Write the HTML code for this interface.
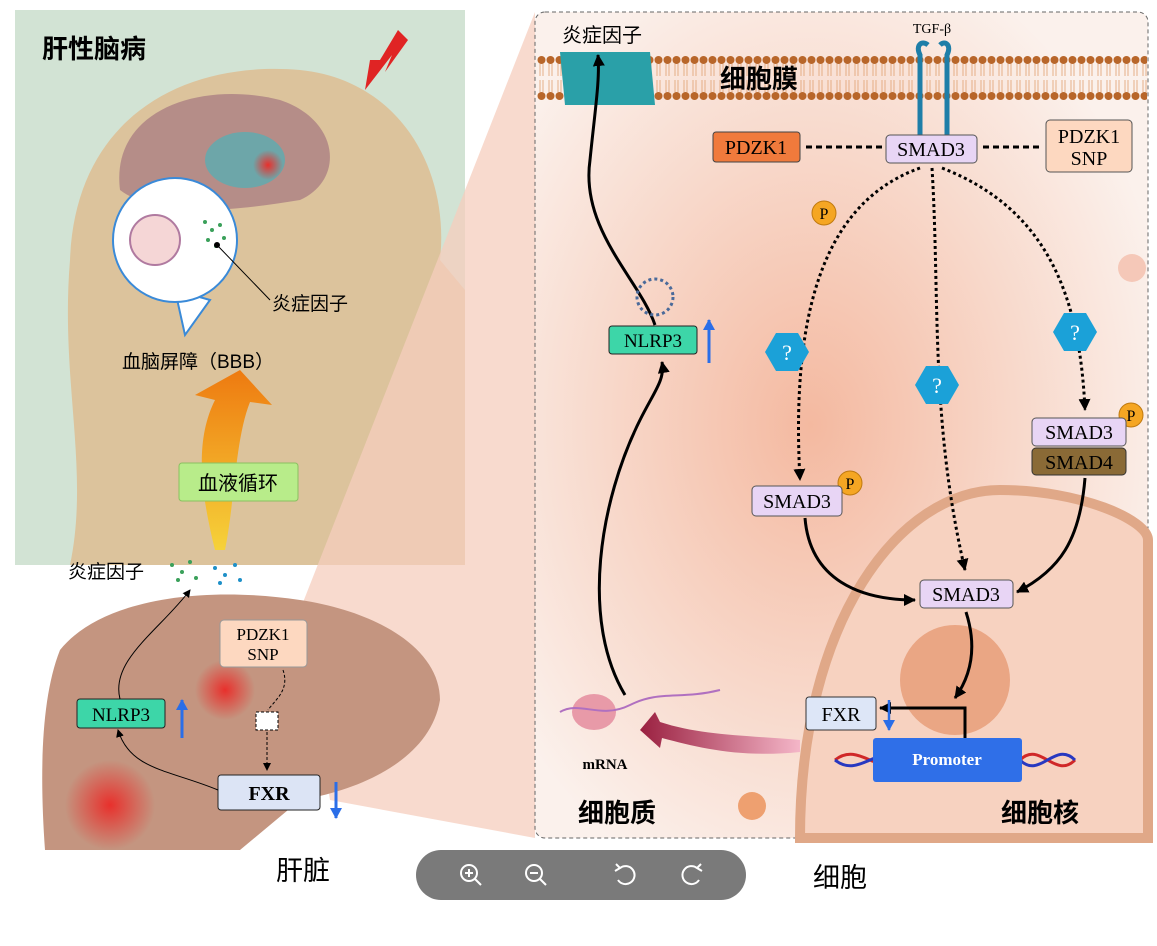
<!DOCTYPE html>
<html><head><meta charset="utf-8"><style>
body{margin:0;background:#fff;width:1157px;height:941px;overflow:hidden}
text{font-family:"Liberation Serif","Noto Serif CJK SC",serif}
.cj{font-family:"Liberation Sans","Noto Sans CJK SC",sans-serif}
</style></head><body>
<svg width="1157" height="941" viewBox="0 0 1157 941" xmlns="http://www.w3.org/2000/svg">
<defs>
<radialGradient id="cy" cx="0.45" cy="0.5" r="0.6"><stop offset="0" stop-color="#f4b9a0"/><stop offset="1" stop-color="#fbf1ec"/></radialGradient>
<radialGradient id="red" cx="0.5" cy="0.5" r="0.5"><stop offset="0" stop-color="#e8302c"/><stop offset="1" stop-color="#e8302c" stop-opacity="0"/></radialGradient>
<linearGradient id="arr" x1="0" y1="1" x2="0" y2="0"><stop offset="0" stop-color="#f6d23a"/><stop offset="1" stop-color="#ee7a10"/></linearGradient>
<linearGradient id="mr" x1="1" y1="0" x2="0" y2="0"><stop offset="0" stop-color="#f4b6c8"/><stop offset="1" stop-color="#9a2040"/></linearGradient>
<marker id="ah" markerUnits="userSpaceOnUse" markerWidth="14" markerHeight="12" refX="11" refY="6" orient="auto"><path d="M0,0 L12,6 L0,12 z" fill="#000"/></marker>
<marker id="as" markerUnits="userSpaceOnUse" markerWidth="8" markerHeight="8" refX="7" refY="4" orient="auto"><path d="M0,0 L8,4 L0,8 z" fill="#000"/></marker>
<marker id="ab" markerUnits="userSpaceOnUse" markerWidth="12" markerHeight="12" refX="10" refY="6" orient="auto"><path d="M0,0 L11,6 L0,12 z" fill="#2a6ee8"/></marker>
<pattern id="bead" x="537" y="56" width="9" height="44" patternUnits="userSpaceOnUse"><circle cx="4.5" cy="4" r="4" fill="#b8662a"/><circle cx="4.5" cy="40" r="4" fill="#b8662a"/><path d="M3,8 L3,20 M6,8 L6,20 M3,24 L3,36 M6,24 L6,36" stroke="#e0a070" stroke-width="0.8"/></pattern>
</defs>
<!-- left head panel -->
<rect x="15" y="10" width="450" height="555" fill="#d2e3d4"/>
<path d="M70,565 C90,470 60,380 70,260 C75,120 180,60 300,70 C400,80 450,170 440,260 L465,290 L465,565 Z" fill="#dcc39c"/>
<path d="M120,190 C110,110 200,80 280,100 C340,120 345,180 300,200 C240,210 160,220 120,190Z" fill="#b58d88"/>
<ellipse cx="245" cy="160" rx="40" ry="28" fill="#4fb0b8" opacity="0.7"/>
<circle cx="268" cy="165" r="15" fill="url(#red)"/>
<path d="M365,90 L392,55 L385,72 L408,40 L398,30 L380,60 L370,60 Z" fill="#e02424"/>
<path d="M175,290 L185,335 L210,300 Z" fill="#fff" stroke="#3a8ad8" stroke-width="2"/>
<circle cx="175" cy="240" r="62" fill="#fff" stroke="#3a8ad8" stroke-width="2"/>
<circle cx="155" cy="240" r="25" fill="#f5d6d6" stroke="#b07aa0" stroke-width="2"/>
<g fill="#3aa05a"><circle cx="205" cy="222" r="2"/><circle cx="212" cy="230" r="2"/><circle cx="220" cy="225" r="2"/><circle cx="208" cy="240" r="2"/><circle cx="216" cy="246" r="2"/><circle cx="224" cy="238" r="2"/></g>
<line x1="217" y1="245" x2="270" y2="300" stroke="#000"/><circle cx="217" cy="245" r="3"/>
<text x="42" y="58" class="cj" font-size="26" font-weight="bold">肝性脑病</text>
<text x="272" y="310" class="cj" font-size="19">炎症因子</text>
<text x="122" y="368" class="cj" font-size="19">血脑屏障（BBB）</text>
<path d="M215,550 C200,490 195,440 215,400 L195,395 L240,370 L272,405 L250,402 C235,440 235,500 225,550Z" fill="url(#arr)"/>
<rect x="179" y="463" width="119" height="38" rx="3" fill="#b8ec8a" stroke="#8ac060"/>
<text x="238" y="490" class="cj" font-size="20" text-anchor="middle">血液循环</text>
<!-- wedge -->
<path d="M300,610 L535,12 L535,838 L330,800 Z" fill="#f6cdbd" opacity="0.75"/>
<text x="68" y="578" class="cj" font-size="19">炎症因子</text>
<g fill="#3aa05a"><circle cx="172" cy="565" r="2"/><circle cx="182" cy="572" r="2"/><circle cx="190" cy="562" r="2"/><circle cx="178" cy="580" r="2"/><circle cx="196" cy="578" r="2"/></g>
<g fill="#1e90c8"><circle cx="215" cy="568" r="2"/><circle cx="225" cy="575" r="2"/><circle cx="235" cy="565" r="2"/><circle cx="220" cy="583" r="2"/><circle cx="240" cy="580" r="2"/></g>
<!-- liver -->
<path d="M60,650 C100,600 200,585 300,600 C380,612 440,650 440,700 C430,760 360,790 300,800 L240,850 L45,850 C40,780 40,700 60,650Z" fill="#c49580"/>
<circle cx="110" cy="805" r="45" fill="url(#red)"/>
<circle cx="225" cy="690" r="30" fill="url(#red)"/>
<rect x="220" y="620" width="87" height="47" rx="4" fill="#fdd8c0" stroke="#999"/>
<text x="263" y="640" font-size="17" text-anchor="middle">PDZK1</text><text x="263" y="660" font-size="17" text-anchor="middle">SNP</text>
<rect x="256" y="712" width="22" height="18" fill="#fff" stroke="#000" stroke-dasharray="3,2"/>
<path d="M283,670 C290,690 275,700 268,710" fill="none" stroke="#000" stroke-dasharray="3,2"/>
<path d="M267,732 L267,770" fill="none" stroke="#000" stroke-dasharray="3,2" marker-end="url(#as)"/>
<rect x="77" y="699" width="88" height="29" rx="3" fill="#3dd6a8" stroke="#222"/>
<text x="121" y="721" font-size="19" text-anchor="middle">NLRP3</text>
<path d="M182,738 L182,700" stroke="#2a6ee8" stroke-width="3" marker-end="url(#ab)"/>
<rect x="218" y="775" width="102" height="35" rx="3" fill="#dce4f5" stroke="#222"/>
<text x="269" y="800" font-size="20" text-anchor="middle" font-weight="bold" font-family="Liberation Sans">FXR</text>
<path d="M336,782 L336,818" stroke="#2a6ee8" stroke-width="3" marker-end="url(#ab)"/>
<path d="M120,699 C110,660 160,630 190,590" fill="none" stroke="#000" marker-end="url(#as)"/>
<path d="M218,790 C170,770 130,770 118,730" fill="none" stroke="#000" marker-end="url(#as)"/>
<text x="303" y="880" class="cj" font-size="27" text-anchor="middle">肝脏</text>
<!-- right panel -->
<rect x="535" y="12" width="613" height="826" rx="10" fill="url(#cy)" stroke="#666" stroke-dasharray="4,3"/>
<path d="M800,838 C800,620 900,490 1000,490 C1080,490 1148,520 1148,540 L1148,838Z" fill="#f7d2c0" stroke="#e0a888" stroke-width="10"/>
<circle cx="955" cy="680" r="55" fill="#eaa684"/>
<rect x="537" y="56" width="610" height="44" fill="url(#bead)"/>
<path d="M560,52 L650,52 L655,105 L565,105Z" fill="#2aa0a8"/>
<text x="562" y="42" class="cj" font-size="20">炎症因子</text>
<text x="720" y="88" class="cj" font-size="26" font-weight="bold">细胞膜</text>
<text x="932" y="33" font-size="14" text-anchor="middle">TGF-β</text>
<g stroke="#1e7ea8" stroke-width="5" fill="none"><path d="M920,135 L920,55 C915,45 922,40 928,45"/><path d="M947,135 L947,55 C952,45 945,40 940,45"/></g>
<rect x="713" y="132" width="87" height="30" rx="3" fill="#f07a3c" stroke="#444"/>
<text x="756" y="154" font-size="20" text-anchor="middle">PDZK1</text>
<line x1="806" y1="147" x2="882" y2="147" stroke="#000" stroke-width="3" stroke-dasharray="6,4"/>
<line x1="983" y1="147" x2="1042" y2="147" stroke="#000" stroke-width="3" stroke-dasharray="6,4"/>
<rect x="886" y="135" width="91" height="28" rx="4" fill="#e8d5f5" stroke="#555"/>
<text x="931" y="156" font-size="20" text-anchor="middle">SMAD3</text>
<rect x="1046" y="120" width="86" height="52" rx="4" fill="#fdd8c0" stroke="#555"/>
<text x="1089" y="143" font-size="20" text-anchor="middle">PDZK1</text><text x="1089" y="165" font-size="20" text-anchor="middle">SNP</text>
<g fill="none" stroke="#000" stroke-width="3" stroke-dasharray="3,3">
<path d="M920,168 C830,200 790,300 800,480" marker-end="url(#ah)"/>
<path d="M932,168 C940,300 930,420 965,570" marker-end="url(#ah)"/>
<path d="M942,168 C1050,210 1080,300 1085,410" marker-end="url(#ah)"/>
</g>
<g fill="#f5a623" stroke="#c07a10"><circle cx="824" cy="213" r="12"/><circle cx="850" cy="483" r="12"/><circle cx="1131" cy="415" r="12"/></g>
<g font-size="16" text-anchor="middle" font-family="Liberation Sans"><text x="824" y="219">P</text><text x="850" y="489">P</text><text x="1131" y="421">P</text></g>
<g fill="#1ba1d8">
<polygon points="765,352 776,333 798,333 809,352 798,371 776,371"/>
<polygon points="915,385 926,366 948,366 959,385 948,404 926,404"/>
<polygon points="1053,332 1064,313 1086,313 1097,332 1086,351 1064,351"/>
</g>
<g fill="#fff" font-size="22" text-anchor="middle" font-family="Liberation Sans"><text x="787" y="360">?</text><text x="937" y="393">?</text><text x="1075" y="340">?</text></g>
<rect x="752" y="486" width="90" height="30" rx="4" fill="#e8d5f5" stroke="#555"/>
<text x="797" y="508" font-size="20" text-anchor="middle">SMAD3</text>
<rect x="1032" y="418" width="94" height="28" rx="4" fill="#e8d5f5" stroke="#555"/>
<text x="1079" y="439" font-size="20" text-anchor="middle">SMAD3</text>
<rect x="1032" y="448" width="94" height="27" rx="4" fill="#8a6a36" stroke="#333"/>
<text x="1079" y="469" font-size="20" text-anchor="middle">SMAD4</text>
<rect x="920" y="580" width="93" height="28" rx="4" fill="#e8d5f5" stroke="#555"/>
<text x="966" y="601" font-size="20" text-anchor="middle">SMAD3</text>
<g fill="none" stroke="#000" stroke-width="3">
<path d="M805,518 C810,580 860,600 915,600" marker-end="url(#ah)"/>
<path d="M1085,478 C1080,540 1060,570 1017,592" marker-end="url(#ah)"/>
<path d="M966,612 C975,640 975,670 955,698" marker-end="url(#ah)"/>
<path d="M965,740 L965,708 L880,708" marker-end="url(#ah)"/>
<path d="M625,695 C580,620 600,500 640,420 C655,390 665,380 662,362" marker-end="url(#ah)"/>
<path d="M655,325 C640,280 580,230 590,160 C595,110 600,80 598,55" marker-end="url(#ah)"/>
</g>
<rect x="806" y="697" width="70" height="33" rx="3" fill="#dde6f7" stroke="#333"/>
<text x="841" y="721" font-size="20" text-anchor="middle">FXR</text>
<path d="M889,700 L889,730" stroke="#2a6ee8" stroke-width="2.5" marker-end="url(#ab)"/>
<path d="M835,760 C860,740 880,780 905,760 M1020,760 C1040,740 1055,780 1075,760" stroke="#d02828" stroke-width="3" fill="none"/>
<path d="M835,760 C860,780 880,740 905,760 M1020,760 C1040,780 1055,740 1075,760" stroke="#2838c0" stroke-width="3" fill="none"/>
<rect x="873" y="738" width="149" height="44" rx="3" fill="#2f6fe8"/>
<text x="947" y="765" font-size="17" fill="#fff" text-anchor="middle" font-weight="bold">Promoter</text>
<path d="M800,740 C740,735 700,735 660,722 L655,712 L640,730 L660,748 L662,738 C700,748 740,758 800,752Z" fill="url(#mr)"/>
<ellipse cx="594" cy="712" rx="22" ry="18" fill="#e89aa8"/>
<path d="M560,712 C580,700 600,720 630,705 C660,690 680,700 720,690" stroke="#b070c0" stroke-width="2" fill="none"/>
<text x="605" y="769" font-size="15" text-anchor="middle" font-weight="bold">mRNA</text>
<circle cx="655" cy="297" r="18" fill="none" stroke="#4a6a9a" stroke-width="3" stroke-dasharray="3,3"/>
<rect x="609" y="326" width="88" height="28" rx="3" fill="#3dd6a8" stroke="#222"/>
<text x="653" y="347" font-size="19" text-anchor="middle">NLRP3</text>
<path d="M709,363 L709,320" stroke="#2a6ee8" stroke-width="3" marker-end="url(#ab)"/>
<circle cx="752" cy="806" r="14" fill="#eea070"/>
<circle cx="1132" cy="268" r="14" fill="#f5c8b8"/>
<text x="617" y="822" class="cj" font-size="26" font-weight="bold" text-anchor="middle">细胞质</text>
<text x="1040" y="822" class="cj" font-size="26" font-weight="bold" text-anchor="middle">细胞核</text>
<!-- toolbar -->
<rect x="416" y="850" width="330" height="50" rx="25" fill="#7a7a7a"/>
<g stroke="#fff" stroke-width="2" fill="none">
<circle cx="469" cy="873" r="8"/><line x1="475" y1="879" x2="481" y2="885"/><line x1="465" y1="873" x2="473" y2="873"/><line x1="469" y1="869" x2="469" y2="877"/>
<circle cx="534" cy="873" r="8"/><line x1="540" y1="879" x2="546" y2="885"/><line x1="530" y1="873" x2="538" y2="873"/>
<path d="M620,868 A9,9 0 1 1 618,880"/><path d="M616,864 L620,868 L615,871"/>
<path d="M697,868 A9,9 0 1 0 699,880"/><path d="M701,864 L697,868 L702,871"/>
</g>
<text x="840" y="887" class="cj" font-size="27" text-anchor="middle">细胞</text>
</svg>
</body></html>
